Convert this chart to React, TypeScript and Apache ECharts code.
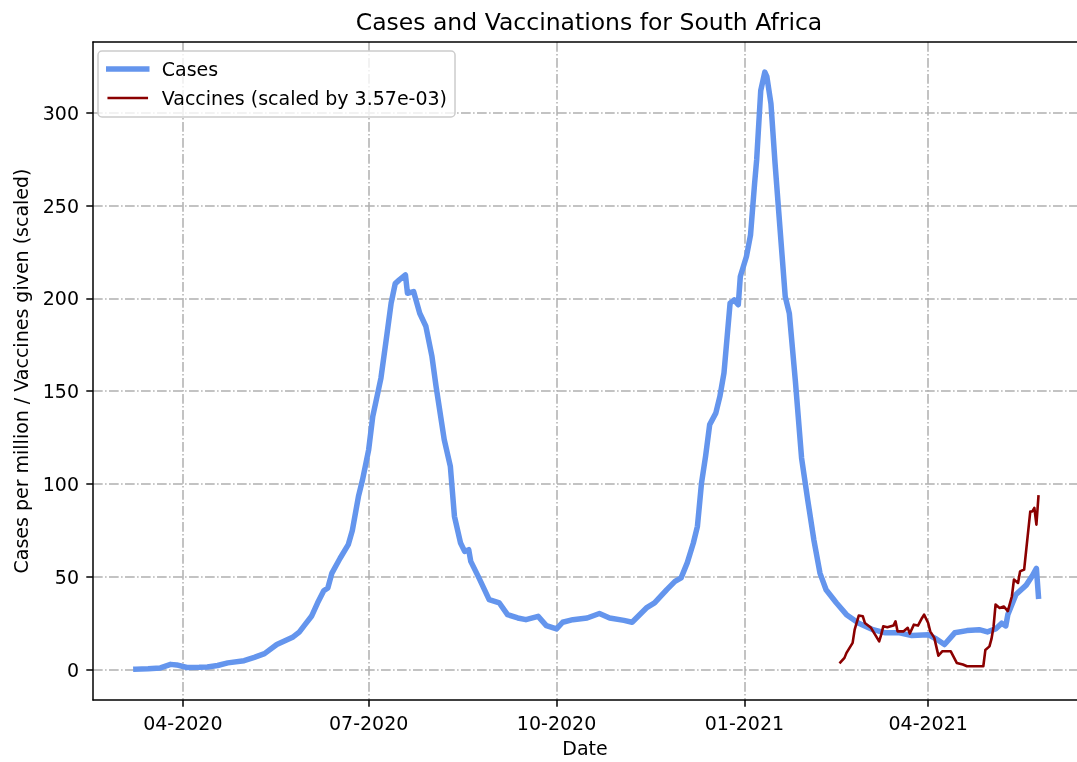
import { useEffect, useRef } from 'react';
import * as echarts from 'echarts';

const caseDates = [
  '2020-03-09', '2020-03-15', '2020-03-21', '2020-03-26', '2020-03-29', '2020-04-03', '2020-04-09', '2020-04-13',
  '2020-04-18', '2020-04-23', '2020-05-01', '2020-05-06', '2020-05-11', '2020-05-17', '2020-05-21', '2020-05-25',
  '2020-05-28', '2020-05-31', '2020-06-03', '2020-06-06', '2020-06-09', '2020-06-11', '2020-06-13', '2020-06-17',
  '2020-06-21', '2020-06-23', '2020-06-26', '2020-06-28', '2020-07-01', '2020-07-03', '2020-07-07', '2020-07-10',
  '2020-07-12', '2020-07-14', '2020-07-16', '2020-07-19', '2020-07-20', '2020-07-23', '2020-07-26', '2020-07-29',
  '2020-08-01', '2020-08-03', '2020-08-07', '2020-08-10', '2020-08-12', '2020-08-15', '2020-08-17', '2020-08-19',
  '2020-08-20', '2020-08-24', '2020-08-29', '2020-09-03', '2020-09-07', '2020-09-12', '2020-09-16', '2020-09-22',
  '2020-09-26', '2020-10-01', '2020-10-04', '2020-10-09', '2020-10-16', '2020-10-22', '2020-10-27', '2020-11-03',
  '2020-11-07', '2020-11-14', '2020-11-18', '2020-11-24', '2020-11-28', '2020-12-01', '2020-12-04', '2020-12-07',
  '2020-12-09', '2020-12-11', '2020-12-13', '2020-12-15', '2020-12-18', '2020-12-20', '2020-12-22', '2020-12-25',
  '2020-12-27', '2020-12-29', '2020-12-30', '2021-01-02', '2021-01-04', '2021-01-06', '2021-01-07', '2021-01-09',
  '2021-01-11', '2021-01-12', '2021-01-14', '2021-01-16', '2021-01-18', '2021-01-21', '2021-01-23', '2021-01-26',
  '2021-01-29', '2021-02-01', '2021-02-04', '2021-02-07', '2021-02-10', '2021-02-15', '2021-02-20', '2021-02-26',
  '2021-03-05', '2021-03-11', '2021-03-18', '2021-03-24', '2021-04-01', '2021-04-05', '2021-04-09', '2021-04-14',
  '2021-04-20', '2021-04-26', '2021-04-30', '2021-05-04', '2021-05-07', '2021-05-09', '2021-05-10', '2021-05-14',
  '2021-05-19', '2021-05-22', '2021-05-24', '2021-05-25',
];
const caseValues = [
  0.2, 0.4, 0.9, 2.8, 2.5, 1.1, 1.2, 1.4,
  2.2, 3.6, 4.8, 6.6, 8.6, 13.5, 15.5, 17.6,
  20.2, 24.5, 28.7, 36, 42.5, 44, 52, 60,
  67.3, 75, 93.3, 102.3, 118.5, 136.4, 157, 181,
  197.5, 208, 210, 212.7, 202.8, 203.7, 192, 185,
  168.7, 152.6, 123.9, 109.5, 82.6, 68.2, 63.7, 64.6,
  58.3, 49.4, 37.7, 35.9, 29.6, 27.8, 26.9, 28.7,
  23.7, 21.9, 25.5, 26.9, 27.8, 30.2, 27.8, 26.5,
  25.5, 33.2, 35.9, 43.1, 47.5, 49.4, 57.5, 68.2,
  77.2, 100.5, 115, 132, 138.2, 147.2, 159.8, 197.5,
  199.2, 196.6, 211.8, 222.6, 234.2, 262, 274.6, 312,
  322, 319.5, 305, 273, 244, 201, 192, 155,
  114, 91.5, 70, 52, 43, 36, 29.6, 25,
  21.5, 19.8, 19.8, 18.3, 18.8, 16.5, 13.5, 19.8,
  21, 21.5, 20.3, 21.9, 25, 23.5, 29.6, 40.5,
  45.5, 50.5, 54.5, 39.5,
];

const vaccineDates = [
  '2021-02-17', '2021-02-19', '2021-02-20', '2021-02-23', '2021-02-24', '2021-02-26', '2021-02-28', '2021-03-01',
  '2021-03-04', '2021-03-06', '2021-03-08', '2021-03-09', '2021-03-10', '2021-03-12', '2021-03-15', '2021-03-16',
  '2021-03-17', '2021-03-20', '2021-03-22', '2021-03-23', '2021-03-25', '2021-03-27', '2021-03-29', '2021-03-30',
  '2021-04-01', '2021-04-02', '2021-04-04', '2021-04-06', '2021-04-08', '2021-04-12', '2021-04-15', '2021-04-18',
  '2021-04-20', '2021-04-28', '2021-04-29', '2021-05-01', '2021-05-02', '2021-05-03', '2021-05-04', '2021-05-06',
  '2021-05-08', '2021-05-10', '2021-05-12', '2021-05-13', '2021-05-15', '2021-05-16', '2021-05-18', '2021-05-21',
  '2021-05-22', '2021-05-23', '2021-05-24', '2021-05-25',
];
const vaccineValues = [
  3.9, 6.3, 9, 14.4, 21.5, 29.1, 28.7, 25.1,
  22.5, 18.8, 15.2, 18.8, 23.3, 22.8, 23.7, 26,
  20.6, 20.6, 22.5, 19.4, 24.2, 23.7, 27.8, 29.6,
  25.1, 20.6, 17.1, 7.5, 9.9, 9.9, 3.6, 2.7,
  1.8, 1.8, 10.5, 12.5, 16.5, 23, 35, 33.2,
  34, 31.5, 39.5, 48.5, 46.7, 52.9, 53.9, 85.2,
  85.2, 87.1, 78.1, 93.3,
];

const xTickDates = ['2020-04-01', '2020-07-01', '2020-10-01', '2021-01-01', '2021-04-01'];
const yTickValues = [0, 50, 100, 150, 200, 250, 300];

const titleText = 'Cases and Vaccinations for South Africa';
const casesName = 'Cases';
const vaccinesName = 'Vaccines (scaled by 3.57e-03)';
const xName = 'Date';
const yName = 'Cases per million / Vaccines given (scaled)';

const FONT = '"DejaVu Sans", sans-serif';
const DAY = 86400000;
const CASES_COLOR = '#6495ED';
const VACC_COLOR = '#8B0000';

function toTime(s: string): number {
  const [y, m, d] = s.split('-').map(Number);
  return new Date(y, m - 1, d).getTime();
}

export default function App() {
  const ref = useRef<HTMLDivElement>(null);

  useEffect(() => {
    document.body.style.margin = '0';
    const chart = echarts.init(ref.current!, null, { renderer: 'svg' });
    const xMin = toTime('2020-02-17');
    const xMax = xMin + (984 / 2.042) * DAY;
    const xTicks = xTickDates.map(toTime);
    const gridStyle = { color: '#b0b0b0', width: 1.5, type: [9.7, 2.4, 1.5, 2.4] };
    const spine = { show: true, onZero: false, lineStyle: { color: '#000', width: 1.5 } };

    chart.setOption({
      animation: false,
      textStyle: { fontFamily: FONT },
      graphic: [
        {
          type: 'text',
          x: 589,
          y: 22,
          z: 10,
          style: {
            text: titleText,
            fontSize: 23.5,
            fontFamily: FONT,
            fill: '#000',
            textAlign: 'center',
            textVerticalAlign: 'middle',
            align: 'center',
            verticalAlign: 'middle',
          },
        },
      ],
      grid: {
        left: 93,
        top: 42,
        right: 0,
        height: 658.5,
        show: false,
        containLabel: false,
      },
      legend: {
        show: true,
        orient: 'vertical',
        left: 98,
        top: 51,
        padding: [7.5, 8, 8.5, 8],
        itemWidth: 38,
        itemHeight: 12,
        itemGap: 8,
        backgroundColor: 'rgba(255,255,255,0.8)',
        borderColor: '#cccccc',
        borderWidth: 1.5,
        borderRadius: 4,
        selectedMode: false,
        z: 10,
        itemStyle: { opacity: 0 },
        textStyle: { fontSize: 19, fontFamily: FONT, color: '#000', lineHeight: 21, padding: [0, 0, 0, 10] },
        data: [
          { name: casesName, itemStyle: { opacity: 0 }, lineStyle: { color: CASES_COLOR, width: 5.5, cap: 'square' } },
          { name: vaccinesName, itemStyle: { opacity: 0 }, lineStyle: { color: VACC_COLOR, width: 2.6, cap: 'square' } },
        ],
      },
      xAxis: [
        {
          type: 'value',
          min: xMin,
          max: xMax,
          position: 'bottom',
          name: xName,
          nameLocation: 'middle',
          nameGap: 38,
          nameTextStyle: { fontSize: 19, fontFamily: FONT, color: '#000' },
          axisLine: spine,
          axisTick: { show: true, length: 6.7, lineStyle: { color: '#000', width: 1.5 }, customValues: xTicks },
          axisLabel: {
            customValues: xTicks,
            fontSize: 19,
            fontFamily: FONT,
            color: '#000',
            margin: 13.5,
            formatter: (v: number) => {
              const d = new Date(v);
              return String(d.getMonth() + 1).padStart(2, '0') + '-' + d.getFullYear();
            },
          },
          splitLine: { show: true, lineStyle: gridStyle },
        },
        {
          type: 'value',
          min: xMin,
          max: xMax,
          position: 'top',
          axisLine: spine,
          axisTick: { show: false },
          axisLabel: { show: false },
          splitLine: { show: false },
        },
      ],
      yAxis: {
        type: 'value',
        min: -16.4,
        max: 338.2,
        name: yName,
        nameLocation: 'middle',
        nameGap: 63,
        nameTextStyle: { fontSize: 19, fontFamily: FONT, color: '#000' },
        axisLine: spine,
        axisTick: { show: true, length: 6.7, lineStyle: { color: '#000', width: 1.5 }, customValues: yTickValues },
        axisLabel: { customValues: yTickValues, fontSize: 19, fontFamily: FONT, color: '#000', margin: 14 },
        splitLine: { show: true, lineStyle: gridStyle },
      },
      series: [
        {
          name: casesName,
          type: 'line',
          xAxisIndex: 0,
          data: caseDates.map((d, i) => [toTime(d), caseValues[i]]),
          showSymbol: false,
          symbol: 'none',
          itemStyle: { color: CASES_COLOR },
          lineStyle: { color: CASES_COLOR, width: 5.5, cap: 'square', join: 'round' },
          z: 2,
        },
        {
          name: vaccinesName,
          type: 'line',
          xAxisIndex: 0,
          data: vaccineDates.map((d, i) => [toTime(d), vaccineValues[i]]),
          showSymbol: false,
          symbol: 'none',
          itemStyle: { color: VACC_COLOR },
          lineStyle: { color: VACC_COLOR, width: 2.6, cap: 'square', join: 'round' },
          z: 3,
        },
      ],
    });

    return () => chart.dispose();
  }, []);

  return <div ref={ref} style={{ position: 'fixed', left: 0, top: 0, width: 1077, height: 762 }} />;
}
